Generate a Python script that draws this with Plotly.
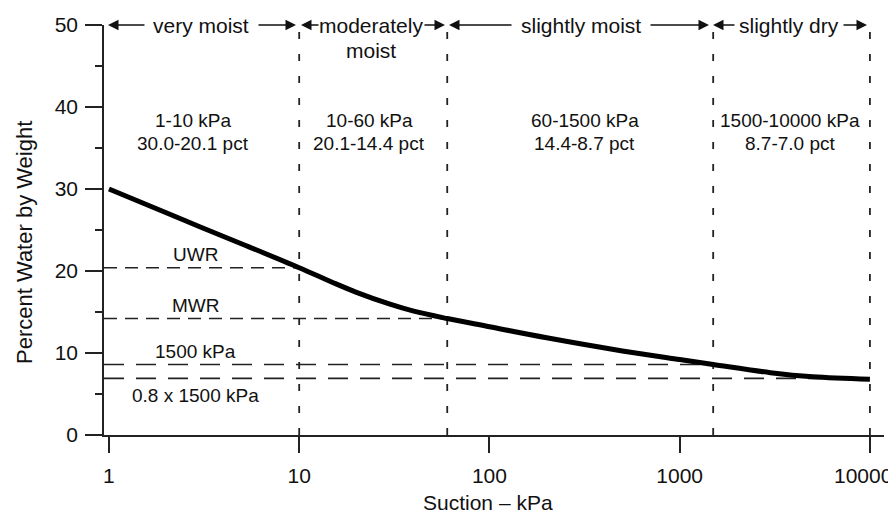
import math
import plotly.graph_objects as go

# ---- data ----
suction_kpa = [1, 2, 3, 5, 10, 15, 20, 30, 40, 60, 100, 200, 500, 1000, 1500, 3000, 5000, 10000]
water_pct = [30.0, 27.1, 25.4, 23.3, 20.4, 18.6, 17.4, 15.95, 15.1, 14.2, 13.2, 11.85, 10.25, 9.2, 8.6, 7.6, 7.1, 6.8]

boundaries_kpa = [1, 10, 60, 1500, 10000]
region_names = ["very moist", "moderately", "slightly moist", "slightly dry"]
region_kpa = ["1-10 kPa", "10-60 kPa", "60-1500 kPa", "1500-10000 kPa"]
region_pct = ["30.0-20.1 pct", "20.1-14.4 pct", "14.4-8.7 pct", "8.7-7.0 pct"]

ref_names = ["UWR", "MWR", "1500 kPa", "0.8 x 1500 kPa"]
ref_values = [20.4, 14.2, 8.6, 6.9]
ref_end_kpa = [10, 60, 1500, 10000]

x_ticks = [1, 10, 100, 1000, 10000]
x_ticktext = ["1", "10", "100", "1000", "10000"]
y_ticks = [0, 10, 20, 30, 40, 50]

# ---- layout constants ----
FONT = "Liberation Sans, Arial, Helvetica, sans-serif"
XR = [-0.026, 4.074]
YR = [0, 50]
x_left = 10 ** XR[0]
# page has an 8px body margin: plot area in page pixels = 104..884 x 25..435
PL, PR, PT, PB = 104, 884, 25, 435

fig = go.Figure()

dash_v = "7px,15px"
dash_h = "13px,8px"
dash_long = "20px,12px"

# vertical dashed region boundaries
for b in boundaries_kpa[1:]:
    fig.add_trace(go.Scatter(x=[b, b], y=[YR[0], YR[1]], mode="lines",
                             line=dict(color="#222", width=1.8, dash=dash_v),
                             hoverinfo="skip", showlegend=False, cliponaxis=False))

# horizontal reference lines
for i, (v, e) in enumerate(zip(ref_values, ref_end_kpa)):
    d = dash_h if i < 2 else dash_long
    fig.add_trace(go.Scatter(x=[x_left, e], y=[v, v], mode="lines",
                             line=dict(color="#222", width=1.6, dash=d),
                             hoverinfo="skip", showlegend=False))

# retention curve
fig.add_trace(go.Scatter(x=suction_kpa, y=water_pct, mode="lines",
                         line=dict(color="black", width=5, shape="spline", smoothing=1.0),
                         hoverinfo="skip", showlegend=False, cliponaxis=False))

ann = []

def px2log(px):
    return XR[0] + (px - PL) * (XR[1] - XR[0]) / (PR - PL)

# top region labels with arrows
name_centers = [0.486, 1.380, 2.481, 3.575]
tails = [(146, 257), (320, 423), (513, 649), (736, 842)]
heads = [(108, 296), (301, 445), (449, 709), (713, 867)]

for i, name in enumerate(region_names):
    ann.append(dict(x=name_centers[i], y=50, xref="x", yref="y", text=name,
                    showarrow=False, font=dict(size=21, family=FONT, color="#111"),
                    xanchor="center", yanchor="middle"))
    (tl, tr), (hl, hr) = tails[i], heads[i]
    ann.append(dict(x=px2log(hl), y=50, xref="x", yref="y", text="",
                    showarrow=True, axref="x", ayref="y", ax=px2log(tl), ay=50,
                    arrowhead=2, arrowsize=1.4, arrowwidth=1.5, arrowcolor="#111"))
    ann.append(dict(x=px2log(hr), y=50, xref="x", yref="y", text="",
                    showarrow=True, axref="x", ayref="y", ax=px2log(tr), ay=50,
                    arrowhead=2, arrowsize=1.4, arrowwidth=1.5, arrowcolor="#111"))
ann.append(dict(x=name_centers[1], y=50, yshift=-25, xref="x", yref="y", text="moist",
                showarrow=False, font=dict(size=21, family=FONT, color="#111"),
                xanchor="center", yanchor="middle"))

# region range labels
label_centers = [0.442, 1.367, 2.502, 3.580]
for i in range(4):
    ann.append(dict(x=label_centers[i], y=38.4, xref="x", yref="y", text=region_kpa[i],
                    showarrow=False, font=dict(size=19, family=FONT, color="#111"),
                    xanchor="center", yanchor="middle"))
    ann.append(dict(x=label_centers[i], y=35.6, xref="x", yref="y", text=region_pct[i],
                    showarrow=False, font=dict(size=19, family=FONT, color="#111"),
                    xanchor="center", yanchor="middle"))

# reference line labels
ref_label_y = [22.0, 15.8, 10.2, 4.85]
for name, yv in zip(ref_names, ref_label_y):
    ann.append(dict(x=0.457, y=yv, xref="x", yref="y", text=name, showarrow=False,
                    font=dict(size=19, family=FONT, color="#111"),
                    xanchor="center", yanchor="middle"))

# axis titles
ann.append(dict(x=(24 - PL) / (PR - PL), y=(PB - 243) / (PB - PT), xref="paper", yref="paper",
                text="Percent Water by Weight", textangle=-90, showarrow=False,
                font=dict(size=22, family=FONT, color="#111"),
                xanchor="center", yanchor="middle"))
ann.append(dict(x=(488 - PL) / (PR - PL), y=(PB - 503) / (PB - PT), xref="paper", yref="paper",
                text="Suction – kPa", showarrow=False,
                font=dict(size=21, family=FONT, color="#111"),
                xanchor="center", yanchor="middle"))

# last tick label drawn as an annotation, nudged left so it stays inside the page
axis_ticktext = list(x_ticktext[:-1]) + [""]
ann.append(dict(x=math.log10(x_ticks[-1]), xshift=-7, y=(PB - 475) / (PB - PT),
                xref="x", yref="paper", text=x_ticktext[-1], showarrow=False,
                font=dict(size=21, family=FONT, color="#111"),
                xanchor="center", yanchor="middle"))

fig.update_layout(
    width=888, height=510,
    margin=dict(l=PL - 8, r=888 + 8 - PR, t=PT - 8, b=510 + 8 - PB, autoexpand=False),
    plot_bgcolor="white", paper_bgcolor="white",
    annotations=ann,
    xaxis=dict(type="log", range=XR, showgrid=False, zeroline=False, automargin=False,
               showline=True, linecolor="#222", linewidth=1.5,
               ticks="outside", ticklen=16, tickwidth=1.5, tickcolor="#222",
               tickvals=x_ticks, ticktext=axis_ticktext, ticklabelstandoff=5,
               tickfont=dict(size=21, family=FONT, color="#111")),
    yaxis=dict(range=YR, showgrid=False, zeroline=False, automargin=False,
               showline=True, linecolor="#222", linewidth=1.5,
               ticks="outside", ticklen=17, tickwidth=1.5, tickcolor="#222",
               tickvals=y_ticks, ticklabelstandoff=3,
               minor=dict(dtick=5, ticklen=7, tickwidth=1.5, tickcolor="#222", ticks="outside"),
               tickfont=dict(size=21, family=FONT, color="#111")),
)

fig.write_html("out.html")
